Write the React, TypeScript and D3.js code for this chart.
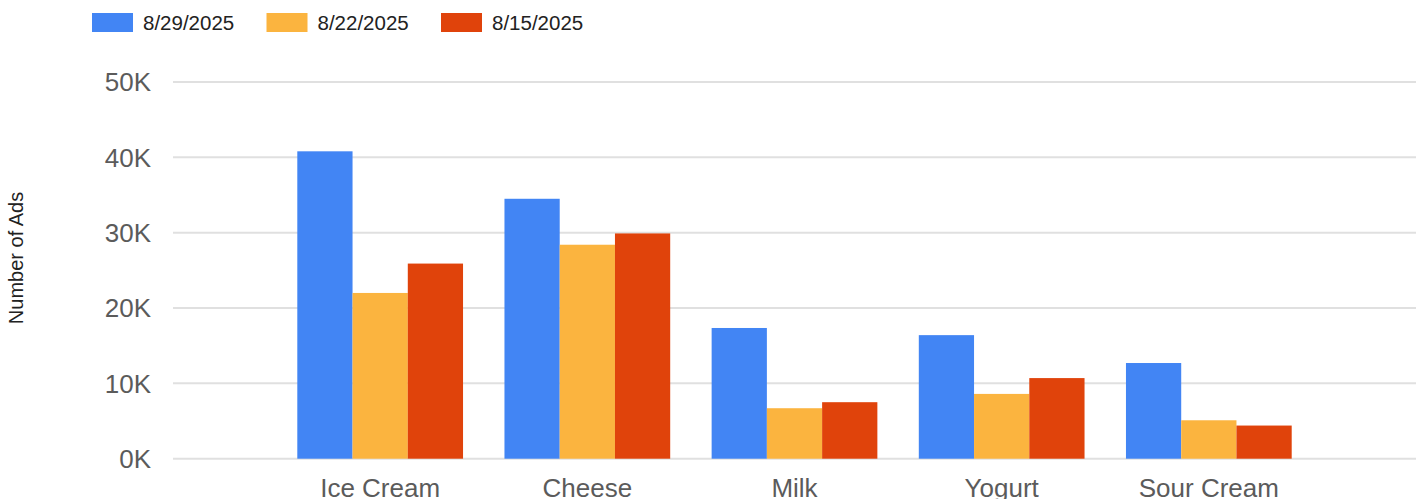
import React from "react";
import * as d3 from "d3";

const categories = ["Ice Cream", "Cheese", "Milk", "Yogurt", "Sour Cream"];
const seriesNames = ["8/29/2025", "8/22/2025", "8/15/2025"];
const values0829 = [40800, 34500, 17350, 16400, 12700];
const values0822 = [22000, 28400, 6700, 8600, 5100];
const values0815 = [25900, 29900, 7500, 10700, 4400];
const yTicks = [0, 10000, 20000, 30000, 40000, 50000];
const colors = ["#4285F4", "#FBB43F", "#E0430B"];

const W = 1421;
const H = 499;
const left = 173;
const right = 1416;
const top = 82;
const bottom = 458.7;

export default function App() {
  const series = [values0829, values0822, values0815];
  const y = d3.scaleLinear().domain([0, 50000]).range([bottom, top]);
  const x0 = d3
    .scaleBand<string>()
    .domain(categories)
    .range([left, right])
    .paddingInner(0.2)
    .paddingOuter(0.6);
  const x1 = d3
    .scaleBand<string>()
    .domain(seriesNames)
    .range([0, x0.bandwidth()])
    .padding(0);
  const fmt = (v: number) => `${d3.format("d")(v / 1000)}K`;
  const legendX = d3.scaleLinear().domain([0, 1]).range([92, 266.5]);

  return (
    <svg
      width={W}
      height={H}
      style={{ position: "absolute", left: 0, top: 0, fontFamily: "'Liberation Sans', Arial, sans-serif" }}
    >
      <rect width={W} height={H} fill="#ffffff" />
      {/* legend */}
      {seriesNames.map((s, i) => (
        <g key={s} transform={`translate(${legendX(i)},0)`}>
          <rect x={0} y={13} width={41} height={19} fill={colors[i]} />
          <text x={51} y={29.5} fontSize={20.5} fill="#222">
            {s}
          </text>
        </g>
      ))}
      {/* gridlines */}
      {yTicks.map((t) => (
        <g key={t}>
          <line x1={left} x2={right} y1={y(t)} y2={y(t)} stroke="#e0e0e0" strokeWidth={2} />
          <text x={151} y={y(t)} dy="0.36em" textAnchor="end" fontSize={26} fill="#5b5b5b">
            {fmt(t)}
          </text>
        </g>
      ))}
      {/* axis title */}
      <text
        transform={`translate(23,258) rotate(-90)`}
        textAnchor="middle"
        fontSize={20}
        fill="#222"
      >
        Number of Ads
      </text>
      {/* bars */}
      {categories.map((c, ci) => (
        <g key={c} transform={`translate(${x0(c)},0)`}>
          {seriesNames.map((s, si) => {
            const v = series[si][ci];
            return (
              <rect
                key={s}
                x={x1(s)}
                y={y(v)}
                width={x1.bandwidth()}
                height={y(0) - y(v)}
                fill={colors[si]}
              />
            );
          })}
          <text
            x={x0.bandwidth() / 2}
            y={497}
            textAnchor="middle"
            fontSize={26}
            fill="#5b5b5b"
          >
            {c}
          </text>
        </g>
      ))}
    </svg>
  );
}
